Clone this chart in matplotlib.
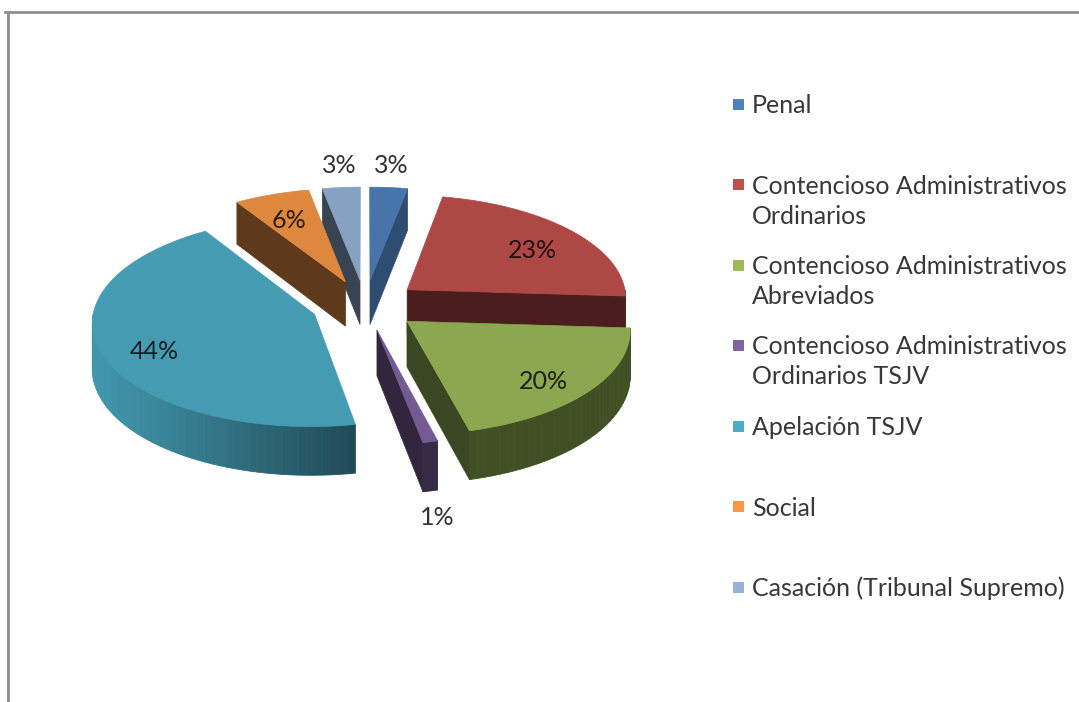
import numpy as np
import matplotlib.pyplot as plt
from matplotlib.patches import Polygon, Rectangle
from matplotlib.lines import Line2D
from matplotlib.colors import to_rgb

plt.rcParams["font.family"] = ["Lato", "DejaVu Sans"]

# Datos del gráfico
categorias = [
    "Penal",
    "Contencioso Administrativos\nOrdinarios",
    "Contencioso Administrativos\nAbreviados",
    "Contencioso Administrativos\nOrdinarios TSJV",
    "Apelación TSJV",
    "Social",
    "Casación (Tribunal Supremo)",
]
porcentajes = [3, 23, 20, 1, 44, 6, 3]
colores = ["#4F81BD", "#C0504D", "#9BBB59", "#8064A2", "#4BACC6", "#F79646", "#95B3D7"]

W, H = 1079, 702
fig = plt.figure(figsize=(W / 100, H / 100), dpi=100)
ax = fig.add_axes([0, 0, 1, 1])
ax.set_xlim(0, W)
ax.set_ylim(H, 0)
ax.axis("off")

# Marco del gráfico (solo borde superior e izquierdo visibles)
ax.add_line(Line2D([5, W], [12, 12], color="#8E8E8E", lw=2))
ax.add_line(Line2D([8, 8], [12, H], color="#8E8E8E", lw=2))

# Parámetros de la tarta 3D
cx, cy = 365, 305      # centro
a, b = 220, 103        # semiejes de la elipse
d = 45                 # grosor
k = 0.07               # perspectiva
e = 0.245              # separación de las porciones


def proj(u, v, h=0.0):
    f = 1.0 / (1.0 + k * v)
    return cx + a * u * f, cy - b * v * f + d * h * f


def shade(c, s):
    r, g, bb = to_rgb(c)
    return (r * s, g * s, bb * s)


luz = np.array([-1.0, -0.2])
luz = luz / np.linalg.norm(luz)

total = sum(porcentajes)
angulos = np.cumsum([0] + porcentajes) / total * 2 * np.pi

porciones = []
for i, p in enumerate(porcentajes):
    t1, t2 = angulos[i], angulos[i + 1]
    m = (t1 + t2) / 2
    porciones.append((np.cos(m), i, t1, t2, m))

# dibujar primero las porciones del fondo
porciones.sort(key=lambda s: -s[0])

for _, i, t1, t2, m in porciones:
    col = colores[i]
    ox, oy = e * np.sin(m), e * np.cos(m)
    n = max(3, int(np.degrees(t2 - t1)) + 2)
    ts = np.linspace(t1, t2, n)

    # paredes radiales
    paredes = ((t1, np.sin(t1) < -1e-6, -np.cos(t1)),
               (t2, np.sin(t2) > 1e-6, np.cos(t2)))
    for t, visible, nx in paredes:
        if visible:
            c = shade(col, 0.38 + 0.22 * max(0.0, nx))
            pts = [proj(ox, oy, 0), proj(ox + np.sin(t), oy + np.cos(t), 0),
                   proj(ox + np.sin(t), oy + np.cos(t), 1), proj(ox, oy, 1)]
            ax.add_patch(Polygon(pts, closed=True, fc=c, ec=c, lw=0.5, zorder=2))

    # pared exterior (solo la parte frontal)
    lo, hi = max(t1, np.pi / 2), min(t2, 3 * np.pi / 2)
    if hi > lo:
        ns = max(3, int(np.degrees(hi - lo) / 2) + 2)
        tw = np.linspace(lo, hi, ns)
        for j in range(ns - 1):
            tm = (tw[j] + tw[j + 1]) / 2
            nrm = np.array([np.sin(tm), np.cos(tm)])
            s = 0.42 + 0.45 * max(0.0, float(nrm @ luz))
            c = shade(col, s)
            pts = [proj(ox + np.sin(tw[j]), oy + np.cos(tw[j]), 0),
                   proj(ox + np.sin(tw[j + 1]), oy + np.cos(tw[j + 1]), 0),
                   proj(ox + np.sin(tw[j + 1]), oy + np.cos(tw[j + 1]), 1),
                   proj(ox + np.sin(tw[j]), oy + np.cos(tw[j]), 1)]
            ax.add_patch(Polygon(pts, closed=True, fc=c, ec=c, lw=0.6, zorder=2))

    # cara superior
    top = [proj(ox, oy, 0)] + [proj(ox + np.sin(t), oy + np.cos(t), 0) for t in ts]
    ax.add_patch(Polygon(top, closed=True, fc=shade(col, 0.9), ec=shade(col, 0.9),
                         lw=0.5, zorder=3))

    # etiqueta de porcentaje
    pct = porcentajes[i] / total * 100
    if pct >= 5:
        r = 0.76
        x, y = proj(ox + r * np.sin(m), oy + r * np.cos(m), 0.15)
        va = "center"
    else:
        r = 1.12
        atras = np.cos(m) > 0
        x, y = proj(ox + r * np.sin(m), oy + r * np.cos(m), 0 if atras else 1)
        va = "bottom" if atras else "top"
    ax.text(x, y, f"{pct:.0f}%", ha="center", va=va, fontsize=18,
            color="black", alpha=0.8, zorder=5)

# Leyenda (el cuadro se alinea con la primera línea del texto)
for i, nombre in enumerate(categorias):
    y = 104 + 80.5 * i
    ax.add_patch(Rectangle((733, y - 5.5), 11, 11, fc=colores[i], ec="none"))
    for j, linea in enumerate(nombre.split("\n")):
        ax.text(752, y + 9 + 30 * j, linea, ha="left", va="baseline",
                fontsize=18, color="black", alpha=0.78)

fig.savefig("out.png", dpi=100, facecolor="white")
